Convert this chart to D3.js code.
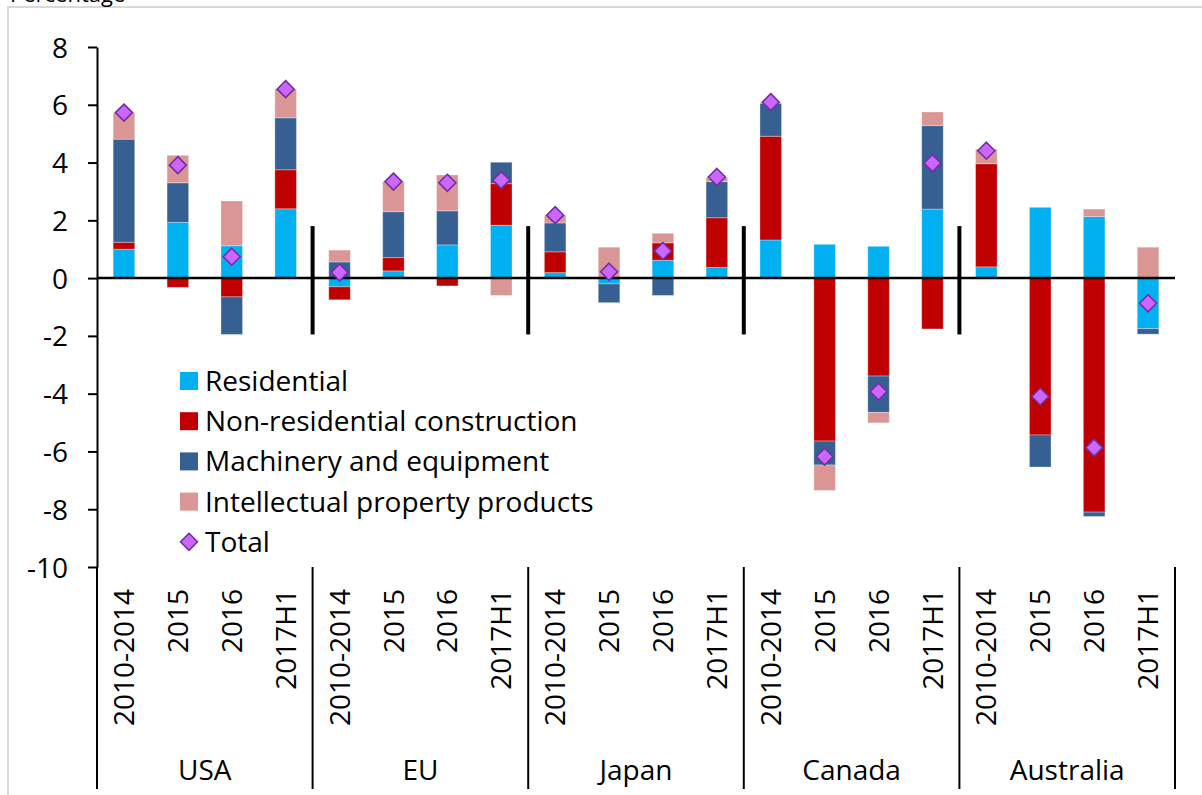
<!DOCTYPE html>
<html>
<head>
<meta charset="utf-8">
<script src="https://cdnjs.cloudflare.com/ajax/libs/d3/7.8.5/d3.min.js"></script>
<style>
  body { margin: 0; background: #fff; }
  svg { display: block; font-family: "Open Sans", sans-serif; }
</style>
</head>
<body>
<div id="chart"></div>
<script>
// categories
var groups = ["USA", "EU", "Japan", "Canada", "Australia"];
var periods = ["2010-2014", "2015", "2016", "2017H1"];

// series values, one per bar (group x period)
var residential    = [1.00, 1.93, 1.12, 2.40, -0.30, 0.25, 1.15, 1.83, 0.19, -0.20, 0.62, 0.37, 1.32, 1.17, 1.10, 2.39, 0.39, 2.45, 2.13, -1.75];
var nonResidential = [0.24, -0.32, -0.65, 1.35, -0.45, 0.46, -0.27, 1.44, 0.72, 0.00, 0.60, 1.72, 3.59, -5.64, -3.39, -1.76, 3.57, -5.43, -8.10, 0.00];
var machinery      = [3.57, 1.37, -1.30, 1.80, 0.56, 1.59, 1.18, 0.74, 1.00, -0.65, -0.60, 1.25, 1.14, -0.83, -1.26, 2.89, 0.00, -1.11, -0.15, -0.19];
var intellectual   = [0.92, 0.95, 1.55, 1.00, 0.41, 1.04, 1.24, -0.60, 0.27, 1.07, 0.33, 0.15, 0.03, -0.88, -0.36, 0.47, 0.50, 0.00, 0.26, 1.07];
var total          = [5.73, 3.91, 0.74, 6.54, 0.20, 3.34, 3.30, 3.39, 2.18, 0.22, 0.94, 3.50, 6.09, -6.18, -3.93, 3.98, 4.41, -4.10, -5.87, -0.87];

// y ticks
var yTicks = [8, 6, 4, 2, 0, -2, -4, -6, -8, -10];

var seriesNames = ["Residential", "Non-residential construction", "Machinery and equipment", "Intellectual property products"];
var seriesKeys = ["res", "nonres", "mach", "ipp"];
var color = d3.scaleOrdinal()
  .domain(seriesKeys)
  .range(["#00B0F0", "#C00000", "#376092", "#D99694"]);

var width = 1202, height = 795;
// (don't call these top/left, window.top is taken)
var plotLeft = 97, plotRight = 1175, plotTop = 47, plotBottom = 567;

// build table for stack
var rows = [];
groups.forEach(function(g, gi) {
  periods.forEach(function(p, pi) {
    var i = gi * periods.length + pi;
    rows.push({
      id: g + "|" + p, group: g, period: p,
      res: residential[i], nonres: nonResidential[i], mach: machinery[i], ipp: intellectual[i],
      total: total[i]
    });
  });
});

var svg = d3.select("#chart").append("svg")
  .attr("width", width)
  .attr("height", height);

// outer chart border (only top and left show in the frame)
svg.append("rect")
  .attr("x", 8).attr("y", 7)
  .attr("width", 1220).attr("height", 820)
  .attr("fill", "none")
  .attr("stroke", "#D9D9D9")
  .attr("stroke-width", 2);

// axis title, mostly cut off at the top like in the source
svg.append("text")
  .attr("x", 10).attr("y", 2)
  .attr("font-size", 22)
  .text("Percentage");

var x = d3.scaleBand()
  .domain(rows.map(function(d) { return d.id; }))
  .range([plotLeft, plotRight])
  .paddingInner(0.6)
  .paddingOuter(0.3);

var xGroup = d3.scaleBand()
  .domain(groups)
  .range([plotLeft, plotRight]);

var y = d3.scaleLinear()
  .domain([-10, 8])
  .range([plotBottom, plotTop]);

/////////////////////////////////////
// BARS
/////////////////////////////////////
var stack = d3.stack()
  .keys(seriesKeys)
  .offset(d3.stackOffsetDiverging);

var layers = stack(rows);

svg.append("g").selectAll("g")
  .data(layers)
  .enter().append("g")
  .attr("fill", function(d) { return color(d.key); })
  .selectAll("rect")
  .data(function(d) { return d; })
  .enter().append("rect")
  .attr("x", function(d) { return x(d.data.id); })
  .attr("width", x.bandwidth())
  .attr("y", function(d) { return y(Math.max(d[0], d[1])); })
  .attr("height", function(d) { return Math.abs(y(d[0]) - y(d[1])); })
  .attr("stroke", "#fff")
  .attr("stroke-opacity", 0.3)
  .attr("stroke-width", 1);

/////////////////////////////////////
// AXES
/////////////////////////////////////
var yAxis = svg.append("g")
  .attr("transform", "translate(" + plotLeft + ",0)")
  .call(d3.axisLeft(y)
    .tickValues(yTicks)
    .tickFormat(function(d) { return String(d); }) // plain hyphen, not d3's minus sign
    .tickSize(9).tickPadding(20).tickSizeOuter(0));

yAxis.select(".domain").attr("stroke", "#000").attr("stroke-width", 2);
yAxis.selectAll(".tick line").attr("stroke", "#000").attr("stroke-width", 2);
yAxis.selectAll(".tick text")
  .attr("font-size", 28)
  .attr("font-family", "Open Sans, sans-serif")
  .attr("fill", "#000")
  .attr("dy", "0.36em");

// zero line
svg.append("line")
  .attr("x1", plotLeft).attr("x2", plotRight)
  .attr("y1", y(0)).attr("y2", y(0))
  .attr("stroke", "#000")
  .attr("stroke-width", 2.5);

// group dividers inside the plot
var bounds = groups.slice(1).map(function(g) { return xGroup(g); });
svg.append("g").selectAll("line")
  .data(bounds)
  .enter().append("line")
  .attr("x1", function(d) { return d; })
  .attr("x2", function(d) { return d; })
  .attr("y1", y(1.8))
  .attr("y2", y(-1.95))
  .attr("stroke", "#000")
  .attr("stroke-width", 4);

// dividers in label area
var labelBounds = groups.map(function(g) { return xGroup(g); }).concat([plotRight]);
svg.append("g").selectAll("line")
  .data(labelBounds)
  .enter().append("line")
  .attr("x1", function(d) { return d; })
  .attr("x2", function(d) { return d; })
  .attr("y1", plotBottom)
  .attr("y2", 789)
  .attr("stroke", "#000")
  .attr("stroke-width", 2);

// period labels (rotated)
svg.append("g").selectAll("text")
  .data(rows)
  .enter().append("text")
  .attr("transform", function(d) {
    return "translate(" + (x(d.id) + x.bandwidth() / 2) + ",589) rotate(-90)";
  })
  .attr("text-anchor", "end")
  .attr("dy", "0.36em")
  .attr("font-size", 28)
  .text(function(d) { return d.period; });

// group labels
svg.append("g").selectAll("text")
  .data(groups)
  .enter().append("text")
  .attr("x", function(d) { return xGroup(d) + xGroup.bandwidth() / 2; })
  .attr("y", 780)
  .attr("text-anchor", "middle")
  .attr("font-size", 28)
  .text(function(d) { return d; });

/////////////////////////////////////
// TOTAL markers
/////////////////////////////////////
function diamond(cx, cy, r) {
  return "M" + cx + "," + (cy - r) + "L" + (cx + r) + "," + cy + "L" + cx + "," + (cy + r) + "L" + (cx - r) + "," + cy + "Z";
}

svg.append("g").selectAll("path")
  .data(rows)
  .enter().append("path")
  .attr("d", function(d) { return diamond(x(d.id) + x.bandwidth() / 2, y(d.total), 8.5); })
  .attr("fill", "#CC66FF")
  .attr("stroke", "#7030A0")
  .attr("stroke-width", 1.6);

/////////////////////////////////////
// LEGEND
/////////////////////////////////////
var legend = svg.append("g");
var legY = 381, legStep = 40.2;

seriesKeys.forEach(function(k, i) {
  var cy = legY + i * legStep;
  legend.append("rect")
    .attr("x", 180).attr("y", cy - 9)
    .attr("width", 18).attr("height", 18)
    .attr("fill", color(k));
  legend.append("text")
    .attr("x", 205).attr("y", cy)
    .attr("dy", "0.36em")
    .attr("font-size", 28)
    .text(seriesNames[i]);
});

var ty = legY + 4 * legStep;
legend.append("path")
  .attr("d", diamond(189, ty, 8.5))
  .attr("fill", "#CC66FF")
  .attr("stroke", "#7030A0")
  .attr("stroke-width", 1.6);
legend.append("text")
  .attr("x", 205).attr("y", ty)
  .attr("dy", "0.36em")
  .attr("font-size", 28)
  .text("Total");
</script>
</body>
</html>
